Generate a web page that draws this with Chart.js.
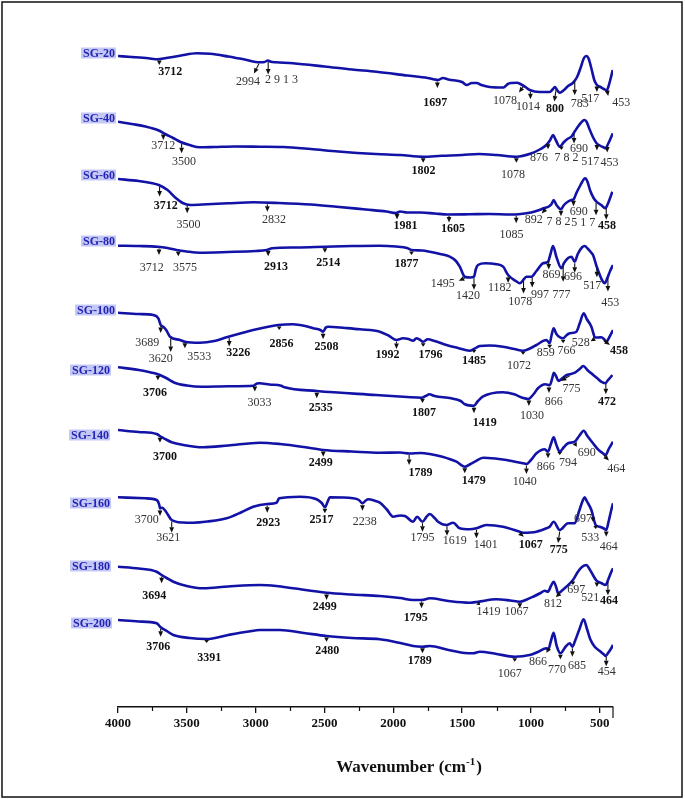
<!DOCTYPE html>
<html>
<head>
<meta charset="utf-8">
<title>FTIR SG series</title>
<script src="https://cdn.jsdelivr.net/npm/chart.js@4.4.1/dist/chart.umd.min.js"></script>
<style>
  html, body { margin: 0; padding: 0; background: #fff; }
  #wrap { width: 685px; height: 799px; position: relative; }
</style>
</head>
<body>
<div id="wrap"><canvas id="ftirChart" width="685" height="799"></canvas></div>
<script>
/**
 * FTIR spectra - SG-20 ... SG-200
 *
 * Stacked transmittance traces (arbitrary units, relative to each trace's
 * stack level) against wavenumber, with the marked bands of every trace.
 */

// Sample names, top to bottom
const sampleNames = ['SG-20', 'SG-40', 'SG-60', 'SG-80', 'SG-100', 'SG-120', 'SG-140', 'SG-160', 'SG-180', 'SG-200'];

// Stack level of each trace (a.u.)
const stackLevels = [654, 589, 532, 466, 397, 337, 272, 204, 141, 84];

// Wavenumber ticks
const tickLabels = [4000, 3500, 3000, 2500, 2000, 1500, 1000, 500];

// Traces: [wavenumber, relative transmittance]
const sg20 = [[4000,-3],[3900,-4],[3780,-5.3],[3712,-6.3],[3650,-5],[3550,-2.8],[3429,-0.3],[3330,-0.8],[3200,-3.5],[3080,-6.5],[2969,-9.3],[2935,-9],[2911,-7.5],[2890,-8.8],[2850,-9.3],[2729,-10.3],[2500,-13.5],[2300,-16.5],[2122,-18.7],[1900,-22.5],[1750,-25],[1700,-26.5],[1675,-27],[1640,-25],[1600,-26.5],[1500,-29],[1466,-32],[1430,-30],[1394,-30],[1360,-32],[1300,-34],[1200,-34.5],[1168,-31],[1140,-30],[1103,-29.7],[1070,-31.5],[1040,-34],[1009,-37],[936,-39],[864,-39],[840,-36],[827,-34],[810,-37],[791,-39.7],[760,-37],[730,-33],[696,-30],[665,-24],[640,-15],[615,-5],[597,-3],[580,-6],[560,-16],[540,-27],[521,-32],[495,-34],[470,-36],[450,-37.3],[438,-34],[422,-26],[406,-17]];
const sg40 = [[4000,-3.7],[3900,-6],[3800,-8.5],[3712,-12],[3650,-16.5],[3600,-20],[3550,-23.7],[3480,-27],[3405,-29.3],[3300,-29],[3150,-28.5],[2969,-28.7],[2800,-29],[2600,-31],[2400,-33.5],[2127,-36],[1950,-37],[1783,-38.7],[1650,-37.8],[1500,-37],[1380,-36],[1250,-37],[1106,-38.7],[1000,-35.5],[930,-31],[888,-27],[860,-22],[840,-17],[820,-22],[791,-28.7],[760,-24],[730,-20.5],[706,-18.7],[680,-13],[650,-7],[625,-3],[610,-2],[595,-4],[575,-11],[550,-19],[525,-25],[500,-27.5],[470,-29.5],[457,-30.3],[440,-26],[420,-20],[406,-15.3]];
const sg60 = [[4000,-4],[3850,-6],[3760,-8],[3704,-10],[3640,-15],[3580,-23],[3530,-28],[3474,-30],[3350,-29.3],[3200,-28.3],[3015,-27.3],[2832,-28],[2600,-29.5],[2412,-31.7],[2200,-34.5],[2050,-36.5],[1981,-38],[1950,-36.5],[1900,-37.5],[1800,-37.5],[1700,-38.5],[1605,-39.5],[1450,-39.3],[1300,-39],[1150,-39.5],[1092,-39.3],[1000,-37.5],[950,-35.5],[907,-33.3],[870,-31.5],[850,-29],[835,-25],[815,-30],[782,-34.3],[760,-30],[730,-26.5],[700,-24.8],[690,-24.3],[670,-18],[640,-10],[615,-4],[605,-3.3],[590,-6.5],[570,-15.5],[545,-23],[524,-26.7],[490,-30],[460,-33.3],[445,-30],[425,-23],[409,-16.7]];
const sg80 = [[4000,-4.7],[3850,-5],[3712,-5.7],[3640,-7],[3575,-9],[3500,-10.5],[3405,-11.7],[3200,-11],[3000,-10],[2920,-9],[2880,-7.3],[2700,-6.5],[2492,-5.7],[2300,-5],[2100,-4.7],[1980,-5.5],[1900,-7],[1868,-9],[1790,-9.5],[1735,-10.7],[1660,-13],[1590,-15.7],[1545,-20],[1517,-25.7],[1481,-35.7],[1440,-36.5],[1414,-35.7],[1400,-28],[1385,-24],[1330,-22.3],[1260,-23],[1202,-25.7],[1166,-34],[1110,-40],[1081,-42.3],[1050,-38],[1033,-35.7],[997,-35.7],[960,-30],[912,-22.3],[876,-20.7],[858,-13],[840,-5],[815,-16],[779,-27.3],[760,-22],[730,-17],[706,-15.7],[682,-20.7],[660,-13],[630,-6.5],[610,-5],[585,-8],[560,-12],[549,-14],[524,-25],[500,-34],[480,-40],[464,-42.3],[445,-37],[425,-30],[404,-24]];
const sg100 = [[4000,-2.7],[3850,-4],[3744,-5],[3707,-8.3],[3690,-15],[3680,-16.2],[3671,-16.7],[3650,-20],[3622,-26.7],[3550,-30],[3514,-31.7],[3405,-32.7],[3300,-31],[3211,-27.3],[3100,-23],[3018,-20],[2900,-16.5],[2836,-15],[2730,-14.3],[2640,-16],[2582,-18.3],[2530,-20],[2510,-21.7],[2490,-17.5],[2474,-16.7],[2350,-18],[2243,-19.3],[2098,-21.7],[2030,-26],[1977,-30],[1930,-28.3],[1890,-29],[1856,-30.7],[1832,-28.3],[1810,-29.5],[1783,-31.7],[1750,-29.3],[1700,-31],[1614,-35],[1530,-38],[1445,-40.7],[1414,-39],[1372,-36],[1300,-35.5],[1203,-36.7],[1120,-39],[1057,-40.7],[1000,-38],[960,-35],[888,-30],[864,-33.3],[850,-25],[835,-18.3],[815,-24],[767,-28.3],[740,-25],[718,-23.3],[670,-21.7],[645,-13],[617,-3.3],[595,-9],[561,-16.7],[545,-24],[537,-27.3],[510,-27.5],[489,-27.3],[470,-29],[453,-31.7],[430,-27],[404,-20]];
const sg120 = [[4000,2.7],[3848,0],[3760,-2.5],[3710,-4.3],[3650,-8],[3589,-12.7],[3500,-15.5],[3388,-16.7],[3200,-16.2],[3015,-15.7],[2990,-13.5],[2972,-13.3],[2900,-14.5],[2814,-15.7],[2790,-17.3],[2556,-21],[2126,-25],[1900,-27],[1795,-27.7],[1765,-26],[1738,-24.3],[1700,-26],[1580,-28.3],[1510,-31],[1480,-34.3],[1414,-35.7],[1385,-31],[1351,-26.7],[1207,-22.3],[1121,-24.3],[1063,-27.7],[1020,-29],[980,-24],[949,-18.3],[897,-14.3],[863,-15],[845,-8],[834,-2.7],[818,-6],[800,-11],[770,-8],[740,-5],[720,-4.3],[677,-2.3],[650,0.5],[619,4],[590,0],[562,-3.3],[520,-8],[490,-11.7],[461,-13.3],[440,-10],[420,-7],[409,-5]];
const sg140 = [[4000,5],[3850,3],[3719,1],[3690,-1.7],[3650,-4.5],[3610,-7.3],[3526,-10],[3381,-12.3],[3200,-10.5],[2969,-7.7],[2824,-9],[2650,-12],[2509,-15],[2300,-16.5],[2098,-17.7],[1950,-17.5],[1885,-18.5],[1800,-18],[1735,-19],[1650,-21.5],[1541,-26.7],[1481,-31.7],[1440,-29],[1408,-26.7],[1348,-22.7],[1260,-23.5],[1178,-25],[1057,-28.3],[1033,-29],[1000,-25],[960,-18.3],[900,-14.3],[876,-16.7],[855,-9],[835,-2.3],[815,-10],[791,-16.7],[760,-12],[731,-8.3],[682,-6.7],[650,-1],[617,4.3],[590,-1],[549,-8.3],[513,-14.3],[480,-18],[457,-20],[435,-14],[404,-6.7]];
const sg160 = [[4000,5.7],[3802,4.7],[3719,3],[3700,-2],[3695,-5.3],[3680,-4.7],[3650,-9],[3610,-17],[3530,-19.5],[3453,-19.7],[3350,-18.5],[3211,-15.3],[3100,-9],[3018,-3.7],[2916,-1],[2848,0.3],[2829,4.7],[2679,6.3],[2557,3.7],[2520,0],[2497,-4.3],[2475,2],[2461,5.7],[2292,4.7],[2250,3],[2224,-0.3],[2200,2.5],[2183,3.7],[2130,2],[2098,0.3],[2050,-6],[2001,-13.7],[1950,-12.5],[1916,-13],[1856,-18.7],[1827,-13.7],[1788,-18.7],[1760,-14],[1735,-11],[1700,-15],[1675,-18.7],[1614,-22],[1566,-19.7],[1517,-25.3],[1445,-26.3],[1396,-25.3],[1324,-22],[1203,-23.7],[1081,-28.7],[1057,-29.7],[960,-28.7],[888,-25.3],[864,-23.7],[835,-18.7],[791,-27],[731,-20.3],[682,-20.3],[650,-8],[625,2],[610,5.7],[595,2],[561,-7],[540,-18],[530,-22],[501,-23.7],[470,-25.5],[453,-27],[435,-18],[420,-9],[404,-0.3]];
const sg180 = [[4000,-0.7],[3850,-2.5],[3719,-5.7],[3683,-9],[3640,-12.5],[3598,-15.7],[3501,-20],[3381,-22.3],[3200,-20.5],[2969,-19],[2850,-20],[2727,-22.3],[2485,-26.7],[2300,-28.5],[2098,-30],[1950,-32],[1856,-34],[1795,-34],[1735,-32.3],[1600,-35],[1445,-36.7],[1384,-35.7],[1251,-33.3],[1150,-34.5],[1081,-35.7],[1030,-33.5],[984,-30.7],[930,-27],[900,-24.7],[876,-25.7],[855,-20],[835,-15.7],[815,-22],[803,-27.3],[770,-24],[743,-20.7],[695,-14],[660,-6],[630,-1],[597,1],[575,-3],[550,-9],[524,-14.7],[490,-17],[457,-19],[440,-14],[420,-7],[404,-2.3]];
const sg200 = [[4000,3],[3850,1.5],[3719,-0.3],[3690,-4.3],[3640,-8.5],[3598,-12],[3480,-15],[3356,-16],[3200,-12],[3050,-8.5],[2969,-7],[2824,-7],[2650,-10],[2485,-13],[2300,-15],[2098,-16.3],[1950,-20],[1856,-23],[1788,-23.7],[1735,-23],[1600,-27],[1480,-30],[1420,-30.3],[1372,-28.7],[1250,-31],[1118,-33.7],[1009,-32],[950,-29],[888,-25.3],[876,-27],[855,-18],[835,-9.7],[815,-22],[786,-30.3],[750,-24],[718,-20.3],[699,-23.7],[680,-18],[650,-7],[617,3.7],[595,-5],[570,-16],[537,-23.7],[500,-28],[470,-31.5],[457,-33],[440,-30],[420,-26],[404,-22]];

// Marked bands: [position (cm-1), label]
const sg20Bands = [[3700,'3712'],[2976,'2994'],[2909,'2 9 1 3'],[1680,'1697'],[1058,'1078'],[1004,'1014'],[818,'800'],[682,'783'],[521,'517'],[446,'453']];
const sg40Bands = [[3671,'3712'],[3538,'3500'],[1783,'1802'],[1106,'1078'],[876,'876'],[779,'7 8 2'],[687,'690'],[521,'517'],[446,'453']];
const sg60Bands = [[3698,'3712'],[3497,'3500'],[2915,'2832'],[1973,'1981'],[1595,'1605'],[1107,'1085'],[893,'892'],[782,'7 8 2'],[691,'690'],[527,'5 1 7'],[453,'458']];
const sg80Bands = [[3702,'3712'],[3562,'3575'],[2909,'2913'],[2497,'2514'],[1868,'1877'],[1481,'1495'],[1414,'1420'],[1166,'1182'],[1054,'1078'],[991,'997'],[871,'869'],[766,'777'],[682,'696'],[521,'517'],[441,'453']];
const sg100Bands = [[3690,'3689'],[3617,'3620'],[3514,'3533'],[3192,'3226'],[2829,'2856'],[2510,'2508'],[1977,'1992'],[1783,'1796'],[1414,'1485'],[1057,'1072'],[864,'859'],[766,'766'],[537,'528'],[470,'458']];
const sg120Bands = [[3710,'3706'],[3006,'3033'],[2556,'2535'],[1788,'1807'],[1414,'1419'],[1015,'1030'],[869,'866'],[720,'775'],[456,'472']];
const sg140Bands = [[3695,'3700'],[2509,'2499'],[1885,'1789'],[1481,'1479'],[1033,'1040'],[876,'866'],[791,'794'],[682,'690'],[470,'464']];
const sg160Bands = [[3695,'3700'],[3610,'3621'],[2916,'2923'],[2497,'2517'],[2224,'2238'],[1788,'1795'],[1610,'1619'],[1396,'1401'],[1081,'1067'],[791,'775'],[550,'697'],[530,'533'],[453,'464']];
const sg180Bands = [[3683,'3694'],[2485,'2499'],[1795,'1795'],[1384,'1419'],[1081,'1067'],[791,'812'],[695,'697'],[521,'521'],[441,'464']];
const sg200Bands = [[3690,'3706'],[3356,'3391'],[2485,'2480'],[1788,'1789'],[1118,'1067'],[869,'866'],[786,'770'],[699,'685'],[453,'454']];

const spectra = [sg20, sg40, sg60, sg80, sg100, sg120, sg140, sg160, sg180, sg200];
const bandLists = [sg20Bands, sg40Bands, sg60Bands, sg80Bands, sg100Bands, sg120Bands, sg140Bands, sg160Bands, sg180Bands, sg200Bands];

// Drawing layout for band marks: [arrow length, tip shift x, label shift x, label shift y, bold]
const bandLayout = [
  [[6,0,11,7.3,1],[11.5,-5,-6,8,0],[14,0,13.4,5,0],[8,0,-2,15.4,1],[7,-4,-14,8,0],[9,0,-2.4,8,0],[13,-1.7,0.7,7.7,1],[15,0,5,9,0],[7,0,-6.6,6.6,0],[6.7,1,13,7.3,0]],
  [[7,0,0,6,0],[11,0,2.3,9,0],[6,0,0.3,8.7,1],[6,0,-3.3,11.7,0],[6.5,0,-9,8.3,0],[5,0,5,8.3,0],[11,0,5,5.7,0],[7,0,-6.6,11.7,0],[7,0,2.3,10,0]],
  [[11,0,6.3,9,1],[9,0,1.2,11.7,0],[9,0,6.7,8.3,0],[7,0,8.6,6.7,1],[8,0,4,6.6,1],[9,0,-4.8,11.7,0],[6,-4,-8,6.3,0],[7,0,-2.4,5.6,0],[7,0,5.2,5,0],[14,0,-12.7,7.3,0],[13,0,0.8,6.6,1]],
  [[8,0,-7.3,12.7,0],[6,0,6.7,11.7,0],[6.7,0,7.7,11,1],[6,0,3.3,10.6,1],[5,0,-5,9.3,1],[4,-6,-16,3,0],[13,0,-6,5.7,0],[8,0,-8.3,5,0],[14,0,-3.4,8.3,0],[11.6,0,7.7,7.7,0],[10,0,2.7,5,0],[17,0,-1.6,12.7,0],[11,0,-1.7,4,0],[10,0,-4.6,8.3,0],[15,0,2.4,11.7,0]],
  [[8,0,-13.4,10,0],[15,0,-10,6.6,0],[6.6,0,14.3,8.4,0],[10,0,9,6,1],[5,0,2.4,14,1],[7.6,0,3.4,8,1],[9,0,-9,5.7,1],[5,0,7.4,8.3,1],[4,0,0,8,1],[4,0,-4,11,0],[5,0,-4,4.4,0],[5,0,3.4,7.4,0],[4,-4,-10,2,0],[6,6,9,5.7,1]],
  [[6,0,-3,12.3,1],[6.6,0,4.7,11.6,0],[7.3,0,4,9.4,1],[5.6,0,1.6,10,1],[7.6,0,10.8,10,1],[7.7,0,3.1,9.3,0],[8,0,4.7,9,0],[6.7,-8.7,10.7,7.6,0],[11.7,0,1.2,7.3,1]],
  [[6.3,0,5,14,1],[6.7,0,-2.6,6,1],[11.5,0,11.4,7.7,1],[6.6,0,9,7.7,1],[10,0,-1.7,7.7,0],[6.6,0,-2.3,9,0],[3.3,0,8.3,7.7,0],[5,2,10,6,0],[6.7,5,7.4,8.3,0]],
  [[7.7,0,-13.3,4,0],[12.7,0,-3.4,5.6,0],[8.7,0,1,10,1],[6,0,-3.3,6.7,1],[7.4,0,2.3,11,0],[10,0,0,6.6,0],[11,0,7.7,5,0],[10,0,9.3,6.7,0],[5,4,7,8,1],[13,-1.7,0.7,7.4,1],[6,0,-10,-2.5,0],[4,0,-5.3,8.4,0],[6.7,0,2.6,10.6,0]],
  [[8.3,0,-7.4,12.7,1],[7.3,0,-1.7,6.7,1],[8.3,0,-5.7,10,1],[3.3,2,8.3,6.7,0],[6.6,0,-3.3,3.4,0],[5,-4,-2.7,6.6,0],[5,0,3.4,5,0],[6,0,-6.6,10.6,0],[15,0,1,6,1]],
  [[9.4,0,-2.4,10.6,1],[4,0,2.6,15,1],[5.7,0,0.6,9.3,1],[6.6,0,-2.7,7.4,1],[5,0,-5,12.6,0],[5.7,-2.6,-8.4,9,0],[6,0,-3.4,10.7,0],[10,0,4.6,9.3,0],[11,0,0.6,5.4,0]]
];

// Right edge (px) of each sample name tag
const nameTagRight = [116, 116, 116, 116, 116, 111, 110, 111, 111, 112];

const TRACE_COLOR = '#1212a6';
const SERIF = '"Liberation Serif", "Times New Roman", serif';

class FtirStackChart {
  constructor(canvasId) {
    this.canvas = document.getElementById(canvasId);
    this.chart = null;
    this.init();
  }

  /**
   * Builds the chart
   */
  init() {
    const self = this;
    const overlay = {
      id: 'ftirOverlay',
      afterDraw(chart) { self.drawOverlay(chart); }
    };

    this.chart = new Chart(this.canvas, {
      type: 'line',
      data: { datasets: this.buildDatasets() },
      options: {
        responsive: false,
        animation: false,
        events: [],
        layout: { padding: { left: 118, right: 72, top: 27, bottom: 62 } },
        plugins: { legend: { display: false }, tooltip: { enabled: false } },
        scales: {
          x: {
            type: 'linear',
            reverse: true,
            min: 404,
            max: 4000,
            afterFit: (scale) => { scale.height = 30; },
            afterBuildTicks: (scale) => { scale.ticks = tickLabels.map(v => ({ value: v })); },
            ticks: {
              stepSize: 500,
              includeBounds: false,
              autoSkip: false,
              maxRotation: 0,
              padding: 3,
              color: '#111',
              font: { family: SERIF, size: 13, weight: 'bold' },
              callback: (value) => String(value)
            },
            grid: { drawOnChartArea: false, drawTicks: true, tickLength: 6, color: '#111', lineWidth: 1.3 },
            border: { display: true, color: '#111', width: 1.5 }
          },
          y: { display: false, min: 0, max: 680 }
        }
      },
      plugins: [overlay]
    });
  }

  /**
   * One dataset per sample, lifted to its stack level
   */
  buildDatasets() {
    return spectra.map((points, i) => ({
      label: sampleNames[i],
      data: points.map(([wn, t]) => ({ x: wn, y: stackLevels[i] + t })),
      borderColor: TRACE_COLOR,
      borderWidth: 2.6,
      pointRadius: 0,
      cubicInterpolationMode: 'monotone',
      borderJoinStyle: 'round',
      fill: false
    }));
  }

  /**
   * Linear interpolation of a trace at a wavenumber
   */
  valueAt(points, wn) {
    for (let k = 0; k < points.length - 1; k++) {
      const [x0, y0] = points[k];
      const [x1, y1] = points[k + 1];
      if (wn <= x0 && wn >= x1) {
        const t = (x0 - wn) / (x0 - x1);
        return y0 + t * (y1 - y0);
      }
    }
    return points[points.length - 1][1];
  }

  drawArrow(ctx, x, yTop, tipX, tipY) {
    const ang = Math.atan2(tipY - yTop, tipX - x);
    const full = Math.hypot(tipX - x, tipY - yTop);
    const hl = Math.min(5.5, Math.max(3, full));
    const hw = 2.4;
    const bx = tipX - hl * Math.cos(ang);
    const by = tipY - hl * Math.sin(ang);
    const px = -Math.sin(ang) * hw;
    const py = Math.cos(ang) * hw;
    ctx.beginPath();
    ctx.moveTo(x, yTop);
    ctx.lineTo(bx, by);
    ctx.stroke();
    ctx.beginPath();
    ctx.moveTo(tipX, tipY);
    ctx.lineTo(bx + px, by + py);
    ctx.lineTo(bx - px, by - py);
    ctx.closePath();
    ctx.fill();
  }

  /**
   * Minor ticks, axis title, sample tags, band arrows, frame
   */
  drawOverlay(chart) {
    const ctx = chart.ctx;
    const xs = chart.scales.x;
    const ys = chart.scales.y;
    const area = chart.chartArea;

    ctx.save();

    // Minor ticks and axis end tick
    ctx.strokeStyle = '#111';
    ctx.lineWidth = 1.2;
    for (let v = 750; v < 4000; v += 500) {
      const px = Math.round(xs.getPixelForValue(v)) + 0.5;
      ctx.beginPath();
      ctx.moveTo(px, area.bottom);
      ctx.lineTo(px, area.bottom + 4);
      ctx.stroke();
    }
    ctx.beginPath();
    ctx.moveTo(area.right, area.bottom);
    ctx.lineTo(area.right, area.bottom + 11);
    ctx.stroke();

    // Axis title with superscript
    ctx.fillStyle = '#111';
    ctx.textBaseline = 'alphabetic';
    ctx.textAlign = 'left';
    const mainFont = `bold 17px ${SERIF}`;
    const supFont = `bold 11px ${SERIF}`;
    ctx.font = mainFont;
    const wA = ctx.measureText('Wavenumber (cm').width;
    const wC = ctx.measureText(')').width;
    ctx.font = supFont;
    const wB = ctx.measureText('-1').width;
    let tx = 409 - (wA + wB + wC + 1) / 2;
    const ty = 772;
    ctx.font = mainFont;
    ctx.fillText('Wavenumber (cm', tx, ty);
    ctx.font = supFont;
    ctx.fillText('-1', tx + wA, ty - 7);
    ctx.font = mainFont;
    ctx.fillText(')', tx + wA + wB + 1, ty);

    // Sample name tags
    ctx.font = `bold 12px ${SERIF}`;
    ctx.textBaseline = 'middle';
    sampleNames.forEach((name, i) => {
      const cy = ys.getPixelForValue(stackLevels[i]);
      const w = ctx.measureText(name).width;
      const right = nameTagRight[i];
      ctx.fillStyle = '#c4c8f6';
      ctx.fillRect(right - w - 3, cy - 5.5, w + 3, 11);
      ctx.fillStyle = '#2424b4';
      ctx.textAlign = 'right';
      ctx.fillText(name, right - 1, cy + 0.5);
    });

    // Band arrows and labels
    ctx.textAlign = 'center';
    ctx.textBaseline = 'middle';
    bandLists.forEach((bands, i) => {
      bands.forEach(([wn, text], j) => {
        const [len, tipDx, dx, dy, bold] = bandLayout[i][j];
        const x = xs.getPixelForValue(wn);
        const cy = ys.getPixelForValue(stackLevels[i] + this.valueAt(spectra[i], wn));
        const tipX = x + tipDx;
        const tipY = cy + len;
        ctx.fillStyle = '#111';
        ctx.strokeStyle = '#111';
        ctx.lineWidth = 1.1;
        this.drawArrow(ctx, x, cy + 1.5, tipX, tipY);
        ctx.font = bold ? `bold 12px ${SERIF}` : `12px ${SERIF}`;
        ctx.fillStyle = bold ? '#111' : '#333';
        ctx.fillText(text, tipX + dx, tipY + dy);
      });
    });

    // Frame
    ctx.strokeStyle = '#111';
    ctx.lineWidth = 1.5;
    ctx.strokeRect(2, 2, 680, 795);

    ctx.restore();
  }
}

document.addEventListener('DOMContentLoaded', () => {
  window.ftirChart = new FtirStackChart('ftirChart');
});
</script>
</body>
</html>
